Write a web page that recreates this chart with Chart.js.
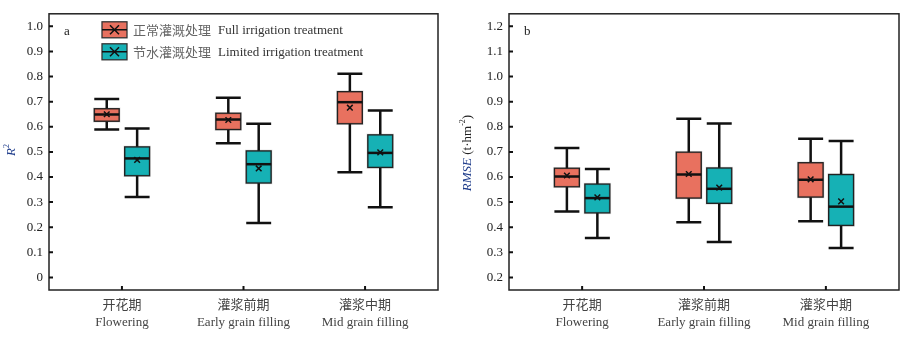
<!DOCTYPE html>
<html>
<head>
<meta charset="utf-8">
<script src="https://cdn.jsdelivr.net/npm/chart.js@4"></script>
<style>
  body { margin: 0; background: #fff; }
  #wrap { display: flex; width: 911px; height: 340px; }
</style>
</head>
<body>
<div id="wrap">
  <canvas id="chartA" width="455" height="340"></canvas>
  <canvas id="chartB" width="456" height="340"></canvas>
</div>
<script>
  // growth stages (x categories)
  const stages = [['开花期', 'Flowering'], ['灌浆前期', 'Early grain filling'], ['灌浆中期', 'Mid grain filling']];
  const seriesNames = [['正常灌溉处理', 'Full irrigation treatment'], ['节水灌溉处理', 'Limited irrigation treatment']];

  // panel a: R2
  const r2FullMin  = [0.589, 0.534, 0.419];
  const r2FullQ1   = [0.622, 0.589, 0.612];
  const r2FullMed  = [0.649, 0.629, 0.698];
  const r2FullQ3   = [0.672, 0.654, 0.740];
  const r2FullMax  = [0.711, 0.716, 0.811];
  const r2FullMean = [0.650, 0.627, 0.676];

  const r2LimMin  = [0.320, 0.217, 0.280];
  const r2LimQ1   = [0.405, 0.376, 0.438];
  const r2LimMed  = [0.474, 0.451, 0.496];
  const r2LimQ3   = [0.520, 0.504, 0.568];
  const r2LimMax  = [0.593, 0.612, 0.665];
  const r2LimMean = [0.468, 0.434, 0.498];

  // panel b: RMSE (t·hm-2)
  const rmseFullMin  = [0.463, 0.420, 0.424];
  const rmseFullQ1   = [0.561, 0.516, 0.520];
  const rmseFullMed  = [0.602, 0.610, 0.589];
  const rmseFullQ3   = [0.635, 0.699, 0.657];
  const rmseFullMax  = [0.716, 0.832, 0.752];
  const rmseFullMean = [0.606, 0.612, 0.591];

  const rmseLimMin  = [0.357, 0.341, 0.317];
  const rmseLimQ1   = [0.457, 0.495, 0.407];
  const rmseLimMed  = [0.516, 0.553, 0.482];
  const rmseLimQ3   = [0.572, 0.636, 0.610];
  const rmseLimMax  = [0.632, 0.813, 0.743];
  const rmseLimMean = [0.519, 0.558, 0.503];

  const r2Ticks   = [0, 0.1, 0.2, 0.3, 0.4, 0.5, 0.6, 0.7, 0.8, 0.9, 1.0];
  const rmseTicks = [0.2, 0.3, 0.4, 0.5, 0.6, 0.7, 0.8, 0.9, 1.0, 1.1, 1.2];

  const fullColor = '#e8715f';
  const limColor = '#16b1b5';
  const offset = 0.125;   // box shift from stage centre (x units)
  const boxW = 0.205;     // box width (x units)
  const serif = "'Liberation Serif', 'Noto Sans CJK SC', serif";
  const cjk = "'Noto Sans CJK SC', sans-serif";

  function boxSeries(min, q1, med, q3, max, mean, color, shift) {
    return { min, q1, med, q3, max, mean, color, shift };
  }

  const boxPlugin = {
    id: 'boxes',
    beforeDatasetsDraw(chart) {
      const { ctx, scales: { x, y } } = chart;
      const half = (x.getPixelForValue(boxW) - x.getPixelForValue(0)) / 2;
      chart.options.plugins.boxes.series.forEach(s => {
        s.min.forEach((_, i) => {
          const cx = x.getPixelForValue(i + 1 + s.shift);
          ctx.save();
          ctx.strokeStyle = '#111';
          ctx.lineWidth = 2.5;
          ctx.beginPath();
          ctx.moveTo(cx, y.getPixelForValue(s.max[i]));
          ctx.lineTo(cx, y.getPixelForValue(s.min[i]));
          ctx.moveTo(cx - half, y.getPixelForValue(s.max[i]));
          ctx.lineTo(cx + half, y.getPixelForValue(s.max[i]));
          ctx.moveTo(cx - half, y.getPixelForValue(s.min[i]));
          ctx.lineTo(cx + half, y.getPixelForValue(s.min[i]));
          ctx.stroke();
          const top = y.getPixelForValue(s.q3[i]);
          const bot = y.getPixelForValue(s.q1[i]);
          ctx.fillStyle = s.color;
          ctx.fillRect(cx - half, top, half * 2, bot - top);
          ctx.lineWidth = 2.5;
          ctx.strokeStyle = 'rgba(0,0,0,0.12)';
          ctx.strokeRect(cx - half, top, half * 2, bot - top);
          ctx.lineWidth = 1.3;
          ctx.strokeStyle = '#222';
          ctx.strokeRect(cx - half, top, half * 2, bot - top);
          ctx.lineWidth = 2.5;
          ctx.strokeStyle = '#111';
          ctx.beginPath();
          ctx.moveTo(cx - half, y.getPixelForValue(s.med[i]));
          ctx.lineTo(cx + half, y.getPixelForValue(s.med[i]));
          ctx.stroke();
          ctx.restore();
        });
      });
    },
    afterDraw(chart) {
      const { ctx, chartArea: a, scales: { x, y } } = chart;
      const o = chart.options.plugins.boxes;
      ctx.save();
      // frame
      ctx.strokeStyle = '#222';
      ctx.lineWidth = 1.5;
      ctx.strokeRect(a.left, a.top, a.right - a.left, a.bottom - a.top);
      // inward ticks
      ctx.lineWidth = 2;
      ctx.strokeStyle = '#111';
      ctx.beginPath();
      y.ticks.forEach(t => {
        const py = y.getPixelForValue(t.value);
        ctx.moveTo(a.left, py);
        ctx.lineTo(a.left + 4, py);
      });
      x.ticks.forEach(t => {
        const px = x.getPixelForValue(t.value);
        ctx.moveTo(px, a.bottom);
        ctx.lineTo(px, a.bottom - 4);
      });
      ctx.stroke();
      // panel letter
      ctx.fillStyle = '#222';
      ctx.font = '13px ' + serif;
      ctx.textBaseline = 'middle';
      ctx.textAlign = 'left';
      ctx.fillText(o.letter, a.left + 15, a.top + 18);
      // y title
      ctx.translate(o.titleX, o.titleY);
      ctx.rotate(-Math.PI / 2);
      const parts = o.title;
      let total = 0;
      parts.forEach(p => { ctx.font = p.font; total += ctx.measureText(p.text).width; });
      let px = -total / 2;
      parts.forEach(p => {
        ctx.font = p.font;
        ctx.fillStyle = p.color;
        ctx.fillText(p.text, px, p.dy || 0);
        px += ctx.measureText(p.text).width;
      });
      ctx.restore();
      // legend
      if (o.legend) {
        ctx.save();
        const items = [[fullColor, seriesNames[0]], [limColor, seriesNames[1]]];
        items.forEach((it, k) => {
          const bx = a.left + 53, by = a.top + 8 + k * 22, bw = 25, bh = 16;
          ctx.fillStyle = it[0];
          ctx.fillRect(bx, by, bw, bh);
          ctx.strokeStyle = '#333';
          ctx.lineWidth = 1.3;
          ctx.strokeRect(bx, by, bw, bh);
          ctx.strokeStyle = '#111';
          ctx.lineWidth = 1.5;
          ctx.beginPath();
          ctx.moveTo(bx, by + bh / 2);
          ctx.lineTo(bx + bw, by + bh / 2);
          ctx.moveTo(bx + bw / 2 - 4.5, by + bh / 2 - 4.5);
          ctx.lineTo(bx + bw / 2 + 4.5, by + bh / 2 + 4.5);
          ctx.moveTo(bx + bw / 2 + 4.5, by + bh / 2 - 4.5);
          ctx.lineTo(bx + bw / 2 - 4.5, by + bh / 2 + 4.5);
          ctx.stroke();
          ctx.fillStyle = '#666';
          ctx.textBaseline = 'middle';
          ctx.font = '13px ' + cjk;
          ctx.fillText(it[1][0], bx + 31, by + bh / 2);
          ctx.fillStyle = '#333';
          ctx.font = '13px ' + serif;
          ctx.fillText(it[1][1], bx + 116, by + bh / 2 + 1);
        });
        ctx.restore();
      }
    }
  };

  function makeChart(id, full, lim, yMin, yMax, yTicks, axisW, padRight, extra) {
    const meanSet = (s, color) => ({
      data: s.mean.map((m, i) => ({ x: i + 1 + s.shift, y: m })),
      pointStyle: 'crossRot',
      radius: 4,
      borderWidth: 1.5,
      borderColor: '#111',
      backgroundColor: color
    });
    return new Chart(document.getElementById(id), {
      type: 'scatter',
      data: { datasets: [meanSet(full, fullColor), meanSet(lim, limColor)] },
      options: {
        responsive: false,
        animation: false,
        layout: { padding: { top: 12, right: padRight, left: 0, bottom: 0 } },
        scales: {
          x: {
            type: 'linear', min: 0.4, max: 3.6,
            grid: { display: false, drawTicks: false }, border: { display: false },
            afterBuildTicks: s => { s.ticks = stages.map((_, i) => ({ value: i + 1 })); },
            afterFit: s => { s.height = 50; },
            ticks: {
              padding: 7, maxRotation: 0, autoSkip: false,
              color: '#444', font: { family: serif, size: 13, lineHeight: 1.3 },
              callback: v => stages[v - 1]
            }
          },
          y: {
            min: yMin, max: yMax,
            grid: { display: false, drawTicks: false }, border: { display: false },
            afterBuildTicks: s => { s.ticks = yTicks.map(v => ({ value: v })); },
            afterFit: s => { s.width = axisW; },
            ticks: {
              padding: 6, color: '#222', font: { family: serif, size: 13 },
              callback: v => v === 0 ? '0' : v.toFixed(1)
            }
          }
        },
        plugins: {
          legend: { display: false },
          tooltip: { enabled: false },
          boxes: Object.assign({ series: [full, lim] }, extra)
        }
      },
      plugins: [boxPlugin]
    });
  }

  makeChart('chartA',
    boxSeries(r2FullMin, r2FullQ1, r2FullMed, r2FullQ3, r2FullMax, r2FullMean, fullColor, -offset),
    boxSeries(r2LimMin, r2LimQ1, r2LimMed, r2LimQ3, r2LimMax, r2LimMean, limColor, offset),
    -0.05, 1.05, r2Ticks, 49, 17,
    {
      letter: 'a', legend: true, titleX: 12, titleY: 150,
      title: [
        { text: 'R', font: 'italic 13px ' + serif, color: '#1d3b8a' },
        { text: '2', font: '8px ' + serif, color: '#1d3b8a', dy: -5 }
      ]
    });

  makeChart('chartB',
    boxSeries(rmseFullMin, rmseFullQ1, rmseFullMed, rmseFullQ3, rmseFullMax, rmseFullMean, fullColor, -offset),
    boxSeries(rmseLimMin, rmseLimQ1, rmseLimMed, rmseLimQ3, rmseLimMax, rmseLimMean, limColor, offset),
    0.15, 1.25, rmseTicks, 54, 12,
    {
      letter: 'b', legend: false, titleX: 13, titleY: 153,
      title: [
        { text: 'RMSE', font: 'italic 13px ' + serif, color: '#1d3b8a' },
        { text: ' (t·hm', font: '13px ' + serif, color: '#222' },
        { text: '-2', font: '8px ' + serif, color: '#222', dy: -5 },
        { text: ')', font: '13px ' + serif, color: '#222' }
      ]
    });
</script>
</body>
</html>
